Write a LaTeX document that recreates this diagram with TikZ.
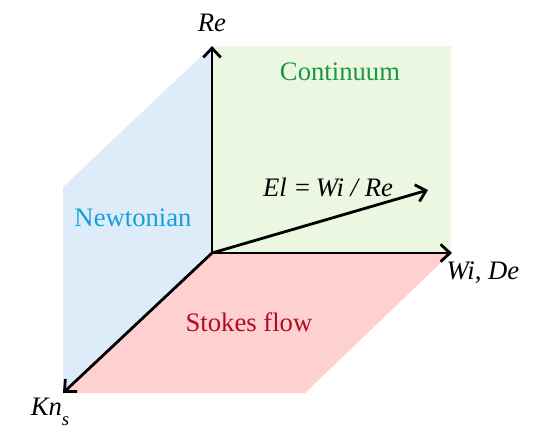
\documentclass[tikz,border=0pt]{standalone}
\usepackage{fontspec}
\setmainfont{Liberation Serif}
\usetikzlibrary{arrows.meta}

\definecolor{planegreen}{HTML}{EBF7E1}
\definecolor{planeblue}{HTML}{DEECFA}
\definecolor{planered}{HTML}{FFD0D0}
\definecolor{txtgreen}{HTML}{1E9646}
\definecolor{txtblue}{HTML}{14A0DC}
\definecolor{txtred}{HTML}{B40A1E}

\begin{document}
\begin{tikzpicture}[
    x=0.75pt, y=-0.75pt,
    axis/.style = {-{Straight Barb[length=7pt, width=13pt]}, line width=2.1pt},
    lbl/.style  = {font=\fontsize{20}{22}\selectfont, inner sep=0pt},
    var/.style  = {font=\fontsize{20}{22}\selectfont\itshape, inner sep=0pt},
]
\useasboundingbox (0,0) rectangle (547,444);

% Corners of the three planes
\coordinate (o)  at (212,253);
\coordinate (re) at (212,46);
\coordinate (wi) at (452,253);
\coordinate (kn) at (63,393);
\coordinate (el) at (428,190);

% Planes
\fill[planeblue]  (re) -- (o) -- (kn) -- (63,187) -- cycle;
\fill[planegreen] (o) rectangle (451,46);
\fill[planered]   (o) -- (451,253) -- (305,393) -- (kn) -- cycle;

% Axes
\draw[axis] (o) -- (re);
\draw[axis] (o) -- (wi);
\draw[axis] (o) -- (kn);
\draw[axis] (o) -- (el);

% Axis labels
\node[var] (relbl) at (212,23)  {Re};
\node[var] (wilbl) at (483,273) {Wi, De};
\node[var] (knlbl) at (50,412)  {Kn\raisebox{-0.8ex}{\fontsize{14}{16}\selectfont s}};
\node[var] (ellbl) at (328,187) {El =\,Wi / Re};

% Regions
\node[lbl, text=txtgreen] (cont)   at (340,72)  {Continuum};
\node[lbl, text=txtblue]  (newt)   at (133,218) {Newtonian};
\node[lbl, text=txtred]   (stokes) at (249,322) {Stokes flow};

\end{tikzpicture}
\end{document}
